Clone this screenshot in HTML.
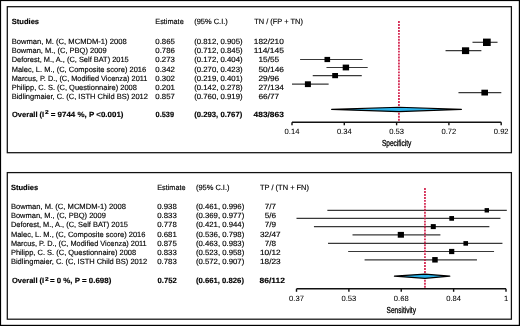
<!DOCTYPE html>
<html><head><meta charset="utf-8"><style>
html,body{margin:0;padding:0;background:#fff;}
body{width:520px;height:326px;overflow:hidden;}
svg{display:block;will-change:transform;transform:translateZ(0);}
text{font-family:"Liberation Sans",sans-serif;font-size:7.6px;fill:#000;stroke:#000;stroke-width:0.15px;text-rendering:geometricPrecision;}
</style></head><body>
<svg width="520" height="326" viewBox="0 0 520 326">
<rect x="0.5" y="0.5" width="518.9" height="324.9" fill="none" stroke="#000" stroke-width="1.2"/>
<rect x="7.3" y="6.7" width="504.1" height="146" fill="none" stroke="#111" stroke-width="1.25"/>
<rect x="7.3" y="172.6" width="504.1" height="146.6" fill="none" stroke="#111" stroke-width="1.25"/>
<text x="11.70" y="24" textLength="27.40" lengthAdjust="spacingAndGlyphs" font-weight="bold">Studies</text>
<text x="155.30" y="24" textLength="28.40" lengthAdjust="spacingAndGlyphs">Estimate</text>
<text x="194.20" y="24" textLength="33.60" lengthAdjust="spacingAndGlyphs">(95% C.I.)</text>
<text x="254.20" y="24" textLength="48.70" lengthAdjust="spacingAndGlyphs">TN / (FP + TN)</text>
<text x="11.70" y="44" textLength="115.00" lengthAdjust="spacingAndGlyphs">Bowman, M. (C, MCMDM-1) 2008</text>
<text x="155.30" y="44" textLength="19.60" lengthAdjust="spacingAndGlyphs">0.865</text>
<text x="194.20" y="44" textLength="48.40" lengthAdjust="spacingAndGlyphs">(0.812, 0.905)</text>
<text x="253.85" y="44" textLength="30.00" lengthAdjust="spacingAndGlyphs">182/210</text>
<text x="11.70" y="53" textLength="95.00" lengthAdjust="spacingAndGlyphs">Bowman, M., (C, PBQ) 2009</text>
<text x="155.30" y="53" textLength="19.60" lengthAdjust="spacingAndGlyphs">0.786</text>
<text x="194.20" y="53" textLength="48.40" lengthAdjust="spacingAndGlyphs">(0.712, 0.845)</text>
<text x="253.85" y="53" textLength="30.00" lengthAdjust="spacingAndGlyphs">114/145</text>
<text x="11.70" y="62" textLength="117.00" lengthAdjust="spacingAndGlyphs">Deforest, M., A., (C, Self BAT) 2015</text>
<text x="155.30" y="62" textLength="19.60" lengthAdjust="spacingAndGlyphs">0.273</text>
<text x="194.20" y="62" textLength="48.40" lengthAdjust="spacingAndGlyphs">(0.172, 0.404)</text>
<text x="258.50" y="62" textLength="20.70" lengthAdjust="spacingAndGlyphs">15/55</text>
<text x="11.70" y="72" textLength="134.50" lengthAdjust="spacingAndGlyphs">Malec, L. M., (C, Composite score) 2016</text>
<text x="155.30" y="72" textLength="19.60" lengthAdjust="spacingAndGlyphs">0.342</text>
<text x="194.20" y="72" textLength="48.40" lengthAdjust="spacingAndGlyphs">(0.270, 0.423)</text>
<text x="258.50" y="72" textLength="25.35" lengthAdjust="spacingAndGlyphs">50/146</text>
<text x="11.70" y="81" textLength="135.75" lengthAdjust="spacingAndGlyphs">Marcus, P. D., (C, Modified Vicenza) 2011</text>
<text x="155.30" y="81" textLength="19.60" lengthAdjust="spacingAndGlyphs">0.302</text>
<text x="194.20" y="81" textLength="48.40" lengthAdjust="spacingAndGlyphs">(0.219, 0.401)</text>
<text x="258.50" y="81" textLength="20.70" lengthAdjust="spacingAndGlyphs">29/96</text>
<text x="11.70" y="90" textLength="125.25" lengthAdjust="spacingAndGlyphs">Philipp, C. S. (C, Questionnaire) 2008</text>
<text x="155.30" y="90" textLength="19.60" lengthAdjust="spacingAndGlyphs">0.201</text>
<text x="194.20" y="90" textLength="48.40" lengthAdjust="spacingAndGlyphs">(0.142, 0.278)</text>
<text x="258.50" y="90" textLength="25.35" lengthAdjust="spacingAndGlyphs">27/134</text>
<text x="11.70" y="99" textLength="136.25" lengthAdjust="spacingAndGlyphs">Bidlingmaier, C. (C, ISTH Child BS) 2012</text>
<text x="155.30" y="99" textLength="19.60" lengthAdjust="spacingAndGlyphs">0.857</text>
<text x="194.20" y="99" textLength="48.40" lengthAdjust="spacingAndGlyphs">(0.760, 0.919)</text>
<text x="258.50" y="99" textLength="20.70" lengthAdjust="spacingAndGlyphs">66/77</text>
<text x="12.00" y="117" textLength="32.20" lengthAdjust="spacingAndGlyphs" font-weight="bold">Overall (I</text>
<text x="44.90" y="114" textLength="3.70" lengthAdjust="spacingAndGlyphs" font-weight="bold" style="font-size:5.8px">2</text>
<text x="50.70" y="117" textLength="72.80" lengthAdjust="spacingAndGlyphs" font-weight="bold">= 9744 %, P &lt;0.001)</text>
<text x="155.60" y="117" textLength="18.40" lengthAdjust="spacingAndGlyphs" font-weight="bold">0.539</text>
<text x="194.20" y="117" textLength="48.10" lengthAdjust="spacingAndGlyphs" font-weight="bold">(0.293, 0.767)</text>
<text x="253.60" y="117" textLength="30.20" lengthAdjust="spacingAndGlyphs" font-weight="bold">483/863</text>
<text x="10.90" y="190" textLength="27.40" lengthAdjust="spacingAndGlyphs" font-weight="bold">Studies</text>
<text x="157.20" y="190" textLength="28.40" lengthAdjust="spacingAndGlyphs">Estimate</text>
<text x="195.90" y="190" textLength="33.60" lengthAdjust="spacingAndGlyphs">(95% C.I.)</text>
<text x="260.00" y="190" textLength="49.00" lengthAdjust="spacingAndGlyphs">TP / (TN + FN)</text>
<text x="10.90" y="209" textLength="115.00" lengthAdjust="spacingAndGlyphs">Bowman, M. (C, MCMDM-1) 2008</text>
<text x="157.20" y="209" textLength="19.60" lengthAdjust="spacingAndGlyphs">0.938</text>
<text x="195.90" y="209" textLength="48.40" lengthAdjust="spacingAndGlyphs">(0.461, 0.996)</text>
<text x="264.65" y="209" textLength="11.40" lengthAdjust="spacingAndGlyphs">7/7</text>
<text x="10.90" y="218" textLength="95.00" lengthAdjust="spacingAndGlyphs">Bowman, M., (C, PBQ) 2009</text>
<text x="157.20" y="218" textLength="19.60" lengthAdjust="spacingAndGlyphs">0.833</text>
<text x="195.90" y="218" textLength="48.40" lengthAdjust="spacingAndGlyphs">(0.369, 0.977)</text>
<text x="264.65" y="218" textLength="11.40" lengthAdjust="spacingAndGlyphs">5/6</text>
<text x="10.90" y="227" textLength="117.00" lengthAdjust="spacingAndGlyphs">Deforest, M., A., (C, Self BAT) 2015</text>
<text x="157.20" y="227" textLength="19.60" lengthAdjust="spacingAndGlyphs">0.778</text>
<text x="195.90" y="227" textLength="48.40" lengthAdjust="spacingAndGlyphs">(0.421, 0.944)</text>
<text x="264.65" y="227" textLength="11.40" lengthAdjust="spacingAndGlyphs">7/9</text>
<text x="10.90" y="237" textLength="134.50" lengthAdjust="spacingAndGlyphs">Malec, L. M., (C, Composite score) 2016</text>
<text x="157.20" y="237" textLength="19.60" lengthAdjust="spacingAndGlyphs">0.681</text>
<text x="195.90" y="237" textLength="48.40" lengthAdjust="spacingAndGlyphs">(0.536, 0.798)</text>
<text x="260.00" y="237" textLength="20.70" lengthAdjust="spacingAndGlyphs">32/47</text>
<text x="10.90" y="246" textLength="135.75" lengthAdjust="spacingAndGlyphs">Marcus, P. D., (C, Modified Vicenza) 2011</text>
<text x="157.20" y="246" textLength="19.60" lengthAdjust="spacingAndGlyphs">0.875</text>
<text x="195.90" y="246" textLength="48.40" lengthAdjust="spacingAndGlyphs">(0.463, 0.983)</text>
<text x="264.65" y="246" textLength="11.40" lengthAdjust="spacingAndGlyphs">7/8</text>
<text x="10.90" y="255" textLength="125.25" lengthAdjust="spacingAndGlyphs">Philipp, C. S. (C, Questionnaire) 2008</text>
<text x="157.20" y="255" textLength="19.60" lengthAdjust="spacingAndGlyphs">0.833</text>
<text x="195.90" y="255" textLength="48.40" lengthAdjust="spacingAndGlyphs">(0.523, 0.958)</text>
<text x="260.00" y="255" textLength="20.70" lengthAdjust="spacingAndGlyphs">10/12</text>
<text x="10.90" y="264" textLength="136.25" lengthAdjust="spacingAndGlyphs">Bidlingmaier, C. (C, ISTH Child BS) 2012</text>
<text x="157.20" y="264" textLength="19.60" lengthAdjust="spacingAndGlyphs">0.783</text>
<text x="195.90" y="264" textLength="48.40" lengthAdjust="spacingAndGlyphs">(0.572, 0.907)</text>
<text x="260.00" y="264" textLength="20.70" lengthAdjust="spacingAndGlyphs">18/23</text>
<text x="12.00" y="283" textLength="32.20" lengthAdjust="spacingAndGlyphs" font-weight="bold">Overall (I</text>
<text x="44.90" y="281" textLength="3.70" lengthAdjust="spacingAndGlyphs" font-weight="bold" style="font-size:5.8px">2</text>
<text x="49.90" y="283" textLength="61.40" lengthAdjust="spacingAndGlyphs" font-weight="bold">= 0 %, P = 0.698)</text>
<text x="157.50" y="283" textLength="19.20" lengthAdjust="spacingAndGlyphs" font-weight="bold">0.752</text>
<text x="195.90" y="283" textLength="48.10" lengthAdjust="spacingAndGlyphs" font-weight="bold">(0.661, 0.826)</text>
<text x="259.60" y="283" textLength="25.40" lengthAdjust="spacingAndGlyphs" font-weight="bold">86/112</text>
<line x1="472.48" y1="42.30" x2="497.53" y2="42.30" stroke="#383838" stroke-width="1.2"/>
<rect x="483.00" y="38.60" width="7.7" height="7.4" fill="#000"/>
<line x1="445.54" y1="50.70" x2="481.37" y2="50.70" stroke="#383838" stroke-width="1.2"/>
<rect x="461.96" y="47.30" width="7.2" height="6.8" fill="#000"/>
<line x1="300.08" y1="59.50" x2="362.57" y2="59.50" stroke="#383838" stroke-width="1.2"/>
<rect x="324.50" y="56.90" width="5.6" height="5.2" fill="#000"/>
<line x1="326.48" y1="67.50" x2="367.69" y2="67.50" stroke="#383838" stroke-width="1.2"/>
<rect x="342.70" y="64.60" width="6.4" height="5.8" fill="#000"/>
<line x1="312.74" y1="75.60" x2="361.77" y2="75.60" stroke="#383838" stroke-width="1.2"/>
<rect x="332.22" y="73.00" width="5.8" height="5.2" fill="#000"/>
<line x1="292.00" y1="84.20" x2="328.63" y2="84.20" stroke="#383838" stroke-width="1.2"/>
<rect x="304.90" y="81.30" width="6.0" height="5.8" fill="#000"/>
<line x1="458.47" y1="92.60" x2="501.30" y2="92.60" stroke="#383838" stroke-width="1.2"/>
<rect x="481.39" y="89.70" width="6.6" height="5.8" fill="#000"/>
<line x1="398.94" y1="21.1" x2="398.94" y2="121.8" stroke="#cf1240" stroke-width="1.6" stroke-dasharray="1.9 1.06"/>
<polygon points="331.67,109.4 398.94,107.25 461.36,109.4 398.94,111.55000000000001" fill="#29b4ec" stroke="#000" stroke-width="1.2" stroke-linejoin="round"/>
<line x1="292.0" y1="122.3" x2="501.2" y2="122.3" stroke="#111" stroke-width="1.5"/>
<line x1="292.00" y1="122.3" x2="292.00" y2="125.3" stroke="#111" stroke-width="1.4"/>
<text x="292.00" y="134" text-anchor="middle" style="font-size:7.61px;stroke-width:0.05px">0.14</text>
<line x1="344.30" y1="122.3" x2="344.30" y2="125.3" stroke="#111" stroke-width="1.4"/>
<text x="344.30" y="134" text-anchor="middle" style="font-size:7.61px;stroke-width:0.05px">0.34</text>
<line x1="396.60" y1="122.3" x2="396.60" y2="125.3" stroke="#111" stroke-width="1.4"/>
<text x="396.60" y="134" text-anchor="middle" style="font-size:7.61px;stroke-width:0.05px">0.53</text>
<line x1="448.90" y1="122.3" x2="448.90" y2="125.3" stroke="#111" stroke-width="1.4"/>
<text x="448.90" y="134" text-anchor="middle" style="font-size:7.61px;stroke-width:0.05px">0.72</text>
<line x1="501.20" y1="122.3" x2="501.20" y2="125.3" stroke="#111" stroke-width="1.4"/>
<text x="501.20" y="134" text-anchor="middle" style="font-size:7.61px;stroke-width:0.05px">0.92</text>
<text x="396.60" y="146" textLength="29.40" lengthAdjust="spacingAndGlyphs" text-anchor="middle" style="font-size:8.7px;stroke-width:0.3px">Specificity</text>
<line x1="327.36" y1="210.30" x2="506.80" y2="210.30" stroke="#383838" stroke-width="1.2"/>
<rect x="484.60" y="208.10" width="4.4" height="4.4" fill="#000"/>
<line x1="296.50" y1="218.40" x2="500.43" y2="218.40" stroke="#383838" stroke-width="1.2"/>
<rect x="449.33" y="216.05" width="4.7" height="4.7" fill="#000"/>
<line x1="313.94" y1="226.60" x2="489.36" y2="226.60" stroke="#383838" stroke-width="1.2"/>
<rect x="430.79" y="224.10" width="5.0" height="5.0" fill="#000"/>
<line x1="352.51" y1="234.80" x2="440.39" y2="234.80" stroke="#383838" stroke-width="1.2"/>
<rect x="397.75" y="231.90" width="6.2" height="5.8" fill="#000"/>
<line x1="328.03" y1="243.40" x2="502.44" y2="243.40" stroke="#383838" stroke-width="1.2"/>
<rect x="463.43" y="241.10" width="4.6" height="4.6" fill="#000"/>
<line x1="348.15" y1="251.50" x2="494.05" y2="251.50" stroke="#383838" stroke-width="1.2"/>
<rect x="449.08" y="248.90" width="5.2" height="5.2" fill="#000"/>
<line x1="364.59" y1="259.80" x2="476.95" y2="259.80" stroke="#383838" stroke-width="1.2"/>
<rect x="432.21" y="257.05" width="5.5" height="5.5" fill="#000"/>
<line x1="424.96" y1="188.1" x2="424.96" y2="288.3" stroke="#cf1240" stroke-width="1.6" stroke-dasharray="1.9 1.06"/>
<polygon points="394.44,276.2 424.96,274.09999999999997 449.78,276.2 424.96,278.3" fill="#29b4ec" stroke="#000" stroke-width="1.2" stroke-linejoin="round"/>
<line x1="296.5" y1="288.8" x2="506.0" y2="288.8" stroke="#111" stroke-width="1.5"/>
<line x1="296.50" y1="288.8" x2="296.50" y2="291.8" stroke="#111" stroke-width="1.4"/>
<text x="296.50" y="301" text-anchor="middle" style="font-size:7.61px;stroke-width:0.05px">0.37</text>
<line x1="348.88" y1="288.8" x2="348.88" y2="291.8" stroke="#111" stroke-width="1.4"/>
<text x="348.88" y="301" text-anchor="middle" style="font-size:7.61px;stroke-width:0.05px">0.53</text>
<line x1="401.25" y1="288.8" x2="401.25" y2="291.8" stroke="#111" stroke-width="1.4"/>
<text x="401.25" y="301" text-anchor="middle" style="font-size:7.61px;stroke-width:0.05px">0.68</text>
<line x1="453.62" y1="288.8" x2="453.62" y2="291.8" stroke="#111" stroke-width="1.4"/>
<text x="453.62" y="301" text-anchor="middle" style="font-size:7.61px;stroke-width:0.05px">0.84</text>
<line x1="506.00" y1="288.8" x2="506.00" y2="291.8" stroke="#111" stroke-width="1.4"/>
<text x="506.00" y="301" text-anchor="middle" style="font-size:7.61px;stroke-width:0.05px">1</text>
<text x="401.25" y="313" textLength="29.40" lengthAdjust="spacingAndGlyphs" text-anchor="middle" style="font-size:8.7px;stroke-width:0.3px">Sensitivity</text>
</svg>
</body></html>
